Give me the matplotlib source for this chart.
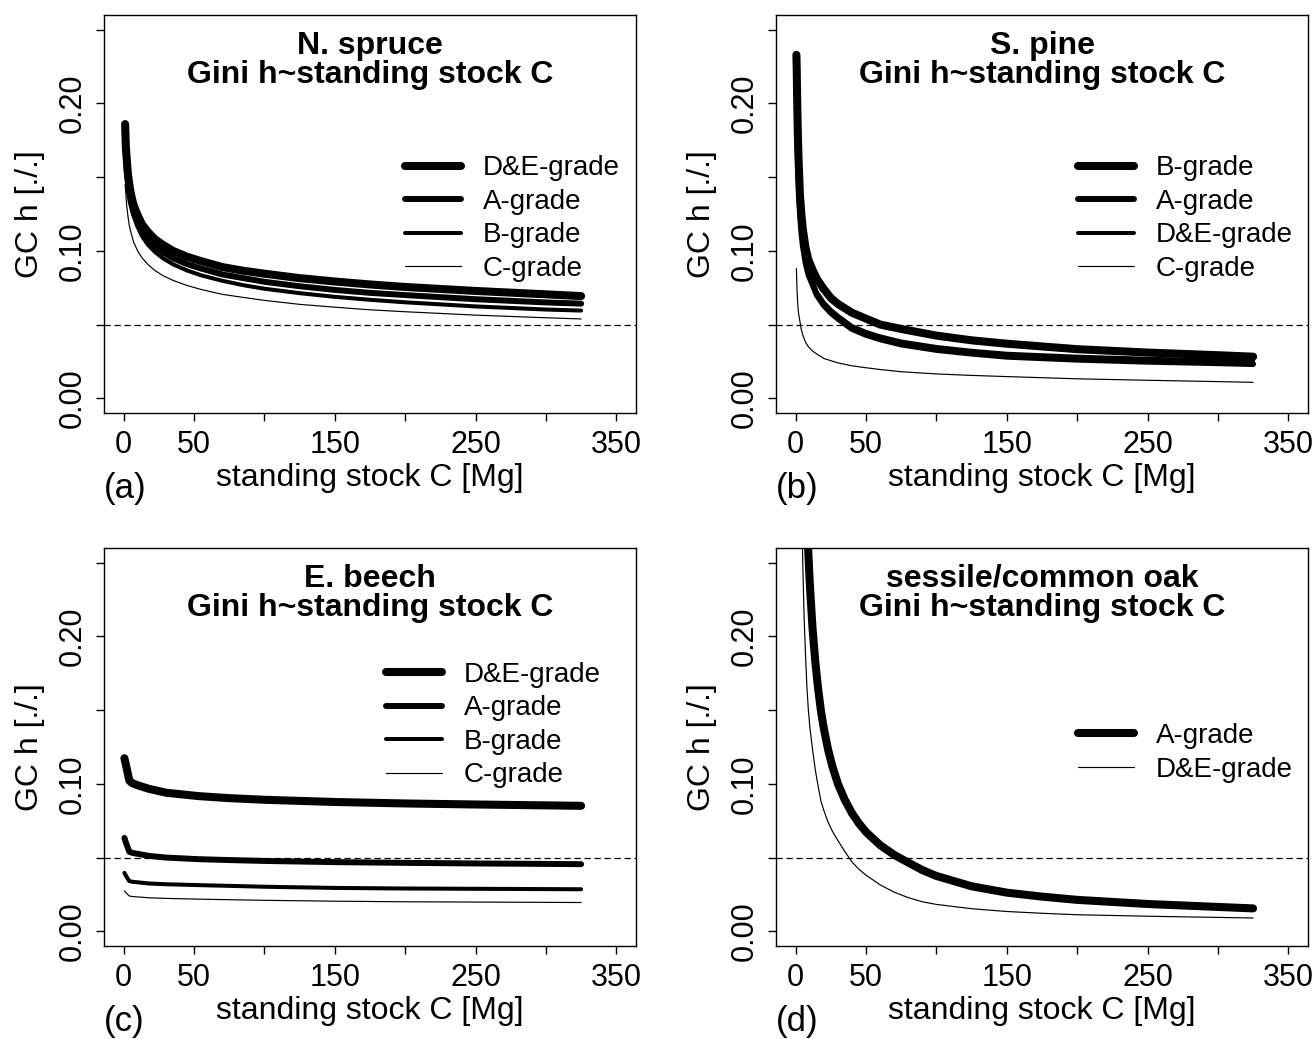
import matplotlib
matplotlib.use("Agg")
import matplotlib.pyplot as plt

plt.rcParams['font.family'] = ['Liberation Sans', 'DejaVu Sans']

# ---------------- data ----------------
# (a) Norway spruce
spruce_x = [1, 1.5, 2, 3, 4, 5, 7, 10, 13, 17, 22, 28, 35, 45, 55, 70, 85, 100, 125, 150, 175, 200, 250, 300, 325]
spruce_DE = [0.186, 0.171, 0.164, 0.152, 0.145, 0.139, 0.131, 0.124, 0.118, 0.113, 0.108, 0.104, 0.100, 0.096, 0.093, 0.089, 0.0865, 0.0845, 0.0815, 0.0792, 0.0772, 0.0755, 0.0728, 0.0705, 0.0693]
spruce_A = [0.178, 0.166, 0.157, 0.146, 0.139, 0.133, 0.126, 0.118, 0.113, 0.108, 0.103, 0.099, 0.095, 0.091, 0.088, 0.084, 0.0815, 0.079, 0.076, 0.0735, 0.0715, 0.070, 0.0672, 0.065, 0.0642]
spruce_B = [0.172, 0.165, 0.157, 0.146, 0.138, 0.132, 0.124, 0.116, 0.110, 0.1044, 0.0994, 0.0949, 0.0909, 0.0867, 0.0834, 0.0797, 0.0767, 0.0743, 0.0713, 0.0688, 0.0668, 0.0651, 0.0623, 0.0602, 0.0595]
spruce_C = [0.145, 0.139, 0.132, 0.1235, 0.117, 0.113, 0.106, 0.0998, 0.0953, 0.091, 0.0868, 0.0831, 0.080, 0.0765, 0.0738, 0.0705, 0.0684, 0.0664, 0.0637, 0.0618, 0.060, 0.0587, 0.0564, 0.0546, 0.0538]

# (b) Scots pine
pine_x = [0.5, 0.75, 1, 1.5, 2, 3, 4, 5, 7, 9, 12, 15, 20, 25, 30, 40, 50, 60, 75, 100, 125, 150, 200, 250, 300, 325]
pine_B = [0.233, 0.222, 0.205, 0.180, 0.163, 0.138, 0.125, 0.115, 0.102, 0.094, 0.087, 0.081, 0.074, 0.068, 0.064, 0.058, 0.054, 0.050, 0.047, 0.0425, 0.0393, 0.037, 0.0333, 0.031, 0.0292, 0.0282]
pine_A = [0.225, 0.205, 0.190, 0.165, 0.148, 0.126, 0.113, 0.104, 0.092, 0.084, 0.077, 0.070, 0.063, 0.058, 0.054, 0.047, 0.043, 0.040, 0.0365, 0.0328, 0.0303, 0.0282, 0.0262, 0.0248, 0.0238, 0.0232]
pine_DE = [0.225, 0.205, 0.190, 0.166, 0.150, 0.128, 0.115, 0.106, 0.094, 0.086, 0.079, 0.072, 0.065, 0.060, 0.056, 0.049, 0.045, 0.042, 0.0385, 0.0348, 0.0322, 0.0302, 0.0282, 0.0268, 0.0258, 0.0254]
pine_C = [0.088, 0.079, 0.072, 0.063, 0.058, 0.052, 0.0465, 0.043, 0.038, 0.035, 0.032, 0.030, 0.027, 0.0255, 0.024, 0.022, 0.0207, 0.0195, 0.018, 0.0165, 0.0155, 0.0147, 0.0132, 0.0122, 0.0113, 0.0108]

# (c) European beech
beech_x = [0.5, 2, 4, 6, 10, 18, 30, 53, 75, 100, 150, 200, 250, 300, 325]
beech_DE = [0.1174, 0.111, 0.1022, 0.1005, 0.099, 0.0966, 0.094, 0.0917, 0.0903, 0.0892, 0.0877, 0.0867, 0.086, 0.0854, 0.0851]
beech_A = [0.0633, 0.059, 0.0539, 0.0532, 0.0525, 0.0511, 0.0500, 0.0489, 0.0483, 0.0477, 0.0469, 0.0464, 0.0460, 0.0457, 0.0455]
beech_B = [0.0396, 0.037, 0.0340, 0.0336, 0.0332, 0.0324, 0.0319, 0.0313, 0.0308, 0.0302, 0.0294, 0.0290, 0.0288, 0.0286, 0.0285]
beech_C = [0.0273, 0.0257, 0.0239, 0.0236, 0.0233, 0.0227, 0.0223, 0.0218, 0.0214, 0.0210, 0.0204, 0.0200, 0.0198, 0.0196, 0.0195]

# (d) sessile/common oak
oak_x = [4, 5, 6, 7, 8, 9, 10, 12, 14, 16, 18, 20, 23, 26, 30, 35, 40, 45, 50, 60, 70, 80, 90, 100, 125, 150, 175, 200, 250, 300, 325]
oak_A = [0.48, 0.405, 0.352, 0.312, 0.281, 0.256, 0.236, 0.205, 0.182, 0.164, 0.149, 0.1375, 0.1233, 0.112, 0.100, 0.0889, 0.0801, 0.0731, 0.0673, 0.0584, 0.0518, 0.0466, 0.0415, 0.0375, 0.0305, 0.0262, 0.0235, 0.0213, 0.0185, 0.0165, 0.0155]
oak_DE = [0.31, 0.25, 0.212, 0.187, 0.165, 0.150, 0.139, 0.123, 0.109, 0.098, 0.088, 0.082, 0.074, 0.068, 0.0615, 0.054, 0.047, 0.042, 0.038, 0.0315, 0.0265, 0.0228, 0.0200, 0.0182, 0.0153, 0.0134, 0.0122, 0.0112, 0.0102, 0.0094, 0.009]

x_ticks = [0, 50, 100, 150, 200, 250, 300, 350]
x_ticklabels = ['0', '50', '', '150', '', '250', '', '350']
y_ticks = [0.00, 0.05, 0.10, 0.15, 0.20, 0.25]
y_ticklabels = ['0.00', '', '0.10', '', '0.20', '']

LW = [5.8, 4.3, 2.9, 0.85]   # thickest -> thinnest

panels = [
    dict(pos=(104, 15), title="N. spruce", tag="(a)", x=spruce_x,
         series=[("D&E-grade", spruce_DE, LW[0]), ("A-grade", spruce_A, LW[1]),
                 ("B-grade", spruce_B, LW[2]), ("C-grade", spruce_C, LW[3])],
         leg=(0.566, 0.647)),
    dict(pos=(776, 15), title="S. pine", tag="(b)", x=pine_x,
         series=[("B-grade", pine_B, LW[0]), ("A-grade", pine_A, LW[1]),
                 ("D&E-grade", pine_DE, LW[2]), ("C-grade", pine_C, LW[3])],
         leg=(0.568, 0.647)),
    dict(pos=(104, 548), title="E. beech", tag="(c)", x=beech_x,
         series=[("D&E-grade", beech_DE, LW[0]), ("A-grade", beech_A, LW[1]),
                 ("B-grade", beech_B, LW[2]), ("C-grade", beech_C, LW[3])],
         leg=(0.530, 0.714)),
    dict(pos=(776, 548), title="sessile/common oak", tag="(d)", x=oak_x,
         series=[("A-grade", oak_A, LW[0]), ("D&E-grade", oak_DE, LW[3])],
         leg=(0.568, 0.560)),
]

W, H = 1314, 1039
fig = plt.figure(figsize=(W / 100, H / 100), dpi=100)
BW, BH = 532, 398

for p in panels:
    l, t = p["pos"]
    ax = fig.add_axes([l / W, 1 - (t + BH) / H, BW / W, BH / H])
    for lab, ys, lw in p["series"]:
        ax.plot(p["x"], ys, color="black", lw=lw, solid_capstyle="round",
                solid_joinstyle="round", label=lab)
    ax.axhline(0.05, color="black", lw=0.9, ls=(0, (5, 3)))
    ax.set_xlim(-14, 364)
    ax.set_ylim(-0.01, 0.26)
    ax.set_xticks(x_ticks)
    ax.set_xticklabels(x_ticklabels, fontsize=22)
    ax.set_yticks(y_ticks)
    ax.set_yticklabels(y_ticklabels, fontsize=22, rotation=90, va="center")
    ax.tick_params(direction="out", length=6, width=1.0, pad=6)
    for s in ax.spines.values():
        s.set_linewidth(1.0)
    ax.text(0.5, 0.923, p["title"], transform=ax.transAxes, ha="center",
            va="center", fontsize=23, fontweight="bold")
    ax.text(0.5, 0.850, "Gini h~standing stock C", transform=ax.transAxes,
            ha="center", va="center", fontsize=23, fontweight="bold")
    ax.text(0.5, -0.163, "standing stock C [Mg]", transform=ax.transAxes,
            ha="center", va="center", fontsize=23)
    ax.text(-0.139, 0.5, "GC h [./.]", transform=ax.transAxes, rotation=90,
            ha="center", va="center", fontsize=23)
    ax.text(0.0, -0.19, p["tag"], transform=ax.transAxes, ha="left",
            va="center", fontsize=25)
    ax.legend(loc="upper left", bbox_to_anchor=p["leg"], frameon=False,
              fontsize=20, handlelength=2.0, handletextpad=0.8,
              labelspacing=0.27, borderpad=0, borderaxespad=0)

fig.savefig("out.png", dpi=100)
